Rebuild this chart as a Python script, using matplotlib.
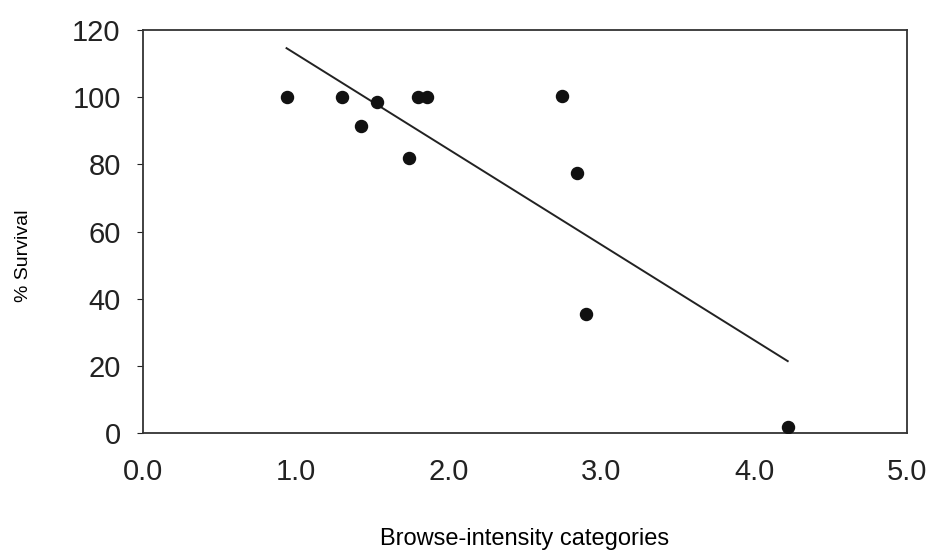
import matplotlib
matplotlib.use("Agg")
import matplotlib.pyplot as plt

plt.rcParams['font.family'] = ['Liberation Sans', 'DejaVu Sans']

# browse intensity vs survival
browse = [0.94, 1.30, 1.43, 1.53, 1.74, 1.80, 1.86, 2.74, 2.84, 2.90, 4.22]
survival = [100, 100, 91.5, 98.5, 82, 100, 100, 100.5, 77.5, 35.5, 1.8]

# fitted trend line end points
fit_x = [0.94, 4.22]
fit_y = [114.6, 21.4]

fig = plt.figure(figsize=(9.34, 5.52), dpi=100)
ax = fig.add_axes([0.153, 0.2156, 0.818, 0.730])

ax.scatter(browse, survival, s=75, color="#111111", zorder=3)
ax.plot(fit_x, fit_y, color="#222222", linewidth=1.4)

ax.set_xlim(0, 5)
ax.set_ylim(0, 120)
ax.set_xticks([0, 1, 2, 3, 4, 5])
ax.set_xticklabels(["0.0", "1.0", "2.0", "3.0", "4.0", "5.0"])
ax.set_yticks([0, 20, 40, 60, 80, 100, 120])
ax.tick_params(axis='both', labelsize=21, colors="#222222")
ax.tick_params(axis='x', length=0, pad=18)
ax.tick_params(axis='y', length=4, width=0.8, pad=12)
for sp in ax.spines.values():
    sp.set_linewidth(1.3)
    sp.set_color("#333333")

ax.set_xlabel("Browse-intensity categories", fontsize=17, labelpad=30)
ax.set_ylabel("% Survival", fontsize=14, labelpad=20)
ax.yaxis.set_label_coords(-0.145, 0.44)

fig.savefig("out.png", dpi=100)
